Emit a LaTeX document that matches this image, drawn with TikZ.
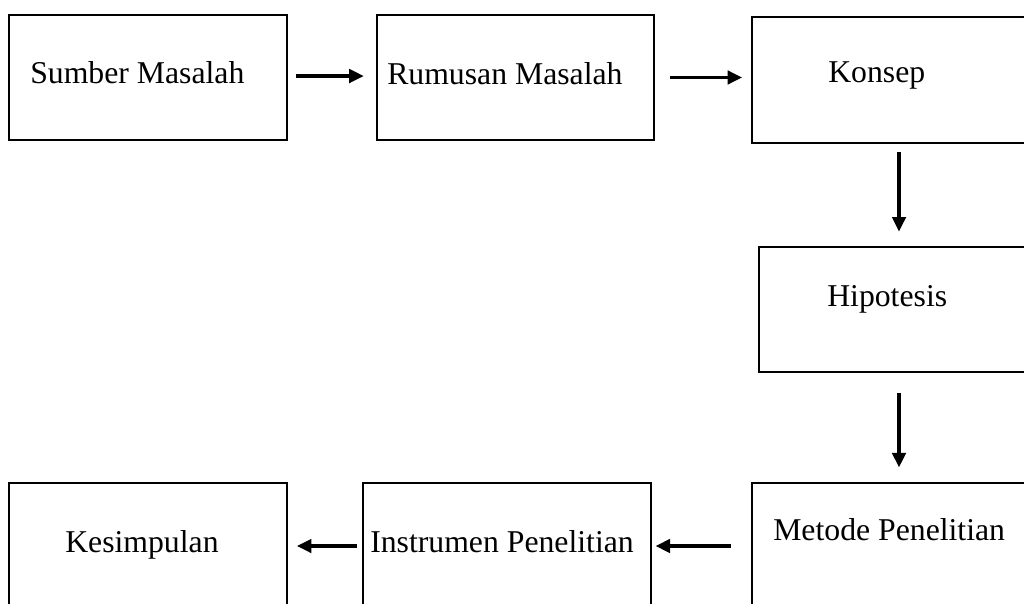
\documentclass[tikz,border=0pt]{standalone}
\usepackage{fontspec}
\setmainfont{Liberation Serif}
\usetikzlibrary{arrows.meta}

\tikzset{
	box/.style={draw, line width=1.7pt, inner sep=0pt, minimum height=94pt},
	lbl/.style={inner sep=0pt, anchor=base west, font=\fontsize{23.8}{28}\selectfont},
	flow/.style={line width=2.7pt, -{Triangle[length=11pt,width=10pt]}}}

\begin{document}
\begin{tikzpicture}[x=0.75pt,y=0.75pt,yscale=-1,xscale=1]
	\useasboundingbox (0,0) rectangle (1024,603);
	\clip (0,0) rectangle (1024,603);

	% boxes, top row
	\node [box, minimum width=208.5pt] (sumber) at (148,77.5) {};
	\node [box, minimum width=207.75pt] (rumusan) at (515.5,77.5) {};
	\node [box, minimum width=220.5pt] (konsep) at (899,80) {};
	% right column
	\node [box, minimum width=210pt] (hipotesis) at (899,309.5) {};
	% bottom row (cut off by the page)
	\node [box, minimum width=220.5pt] (metode) at (899,546) {};
	\node [box, minimum width=216pt] (instrumen) at (507,546) {};
	\node [box, minimum width=208.5pt] (kesimpulan) at (148,546) {};

	% Text Node
	\node [lbl] (tsumber) at (30,83) {Sumber Masalah};
	% Text Node
	\node [lbl] (trumusan) at (387,84) {Rumusan Masalah};
	% Text Node
	\node [lbl] (tkonsep) at (828,82) {Konsep};
	% Text Node
	\node [lbl] (thipotesis) at (827,306) {Hipotesis};
	% Text Node
	\node [lbl] (tmetode) at (773,540) {Metode Penelitian};
	% Text Node
	\node [lbl] (tinstrumen) at (370,552) {Instrumen Penelitian};
	% Text Node
	\node [lbl] (tkesimpulan) at (65,552) {Kesimpulan};

	% arrows
	\draw [flow, shorten <=6pt, shorten >=9pt] ([yshift=-1.1pt]sumber.east) -- ([yshift=-1.1pt]rumusan.west);
	\draw [flow, shorten <=11pt, shorten >=6.5pt] (rumusan.east) -- (rumusan.east -| konsep.west);
	\draw [flow, shorten <=6.5pt, shorten >=10.5pt] (konsep.south) -- (hipotesis.north);
	\draw [flow, shorten <=15pt, shorten >=11pt] (hipotesis.south) -- (metode.north);
	\draw [flow, shorten <=15pt, shorten >=2.5pt] (metode.west) -- (instrumen.east);
	\draw [flow, shorten <=3.5pt, shorten >=6.5pt] (instrumen.west) -- (kesimpulan.east);
\end{tikzpicture}
\end{document}
